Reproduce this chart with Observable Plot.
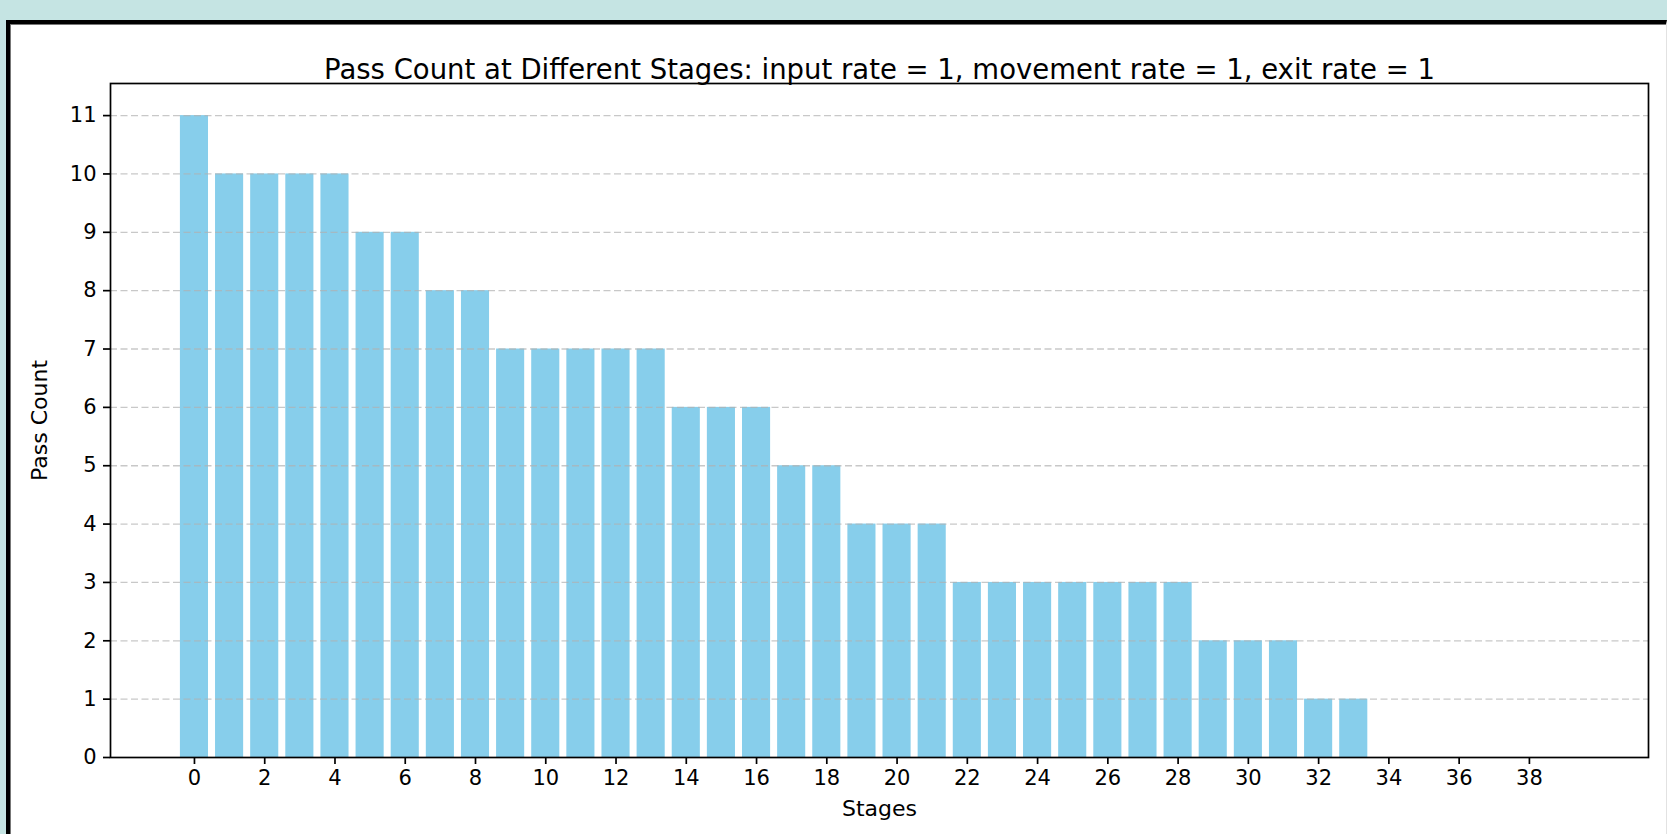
<!DOCTYPE html>
<html>
<head>
<meta charset="utf-8">
<script src="https://cdn.jsdelivr.net/npm/d3@7"></script>
<script src="https://cdn.jsdelivr.net/npm/@observablehq/plot@0.6"></script>
<style>
  html, body { margin: 0; padding: 0; width: 1667px; height: 834px; overflow: hidden; background: #c5e4e3; }
  #frame { position: absolute; left: 6px; top: 20px; width: 1656px; height: 830px;
           border-left: 4px solid #000; border-top: 4px solid #000; border-right: 1px solid #e2e2e2;
           background: #fff; box-shadow: inset 1px 1px 0 #777; }
  #chart { position: absolute; left: 0; top: 0; }
</style>
</head>
<body>
<div id="frame"></div>
<div id="chart"></div>
<script>
const titleText = "Pass Count at Different Stages: input rate = 1, movement rate = 1, exit rate = 1";
const xLabel = "Stages";
const yLabel = "Pass Count";
const stages = d3.range(0, 40);
const passCounts = [11,10,10,10,10,9,9,8,8,7,7,7,7,7,6,6,6,5,5,4,4,4,3,3,3,3,3,3,3,2,2,2,1,1,0,0,0,0,0,0];
const xTicks = d3.range(0, 39, 2);
const yTicks = d3.range(0, 12);

const data = stages.map((s, i) => ({stage: s, count: passCounts[i]}));
const font = "DejaVu Sans, sans-serif";

const chart = Plot.plot({
  width: 1667,
  height: 834,
  marginLeft: 110,
  marginRight: 19,
  marginTop: 83,
  marginBottom: 77,
  style: {background: "transparent", fontFamily: font, color: "#000", overflow: "visible"},
  x: {domain: [-2.39, 41.39]},
  y: {domain: [0, 11.55]},
  marks: [
    Plot.rectY(data, {x1: d => d.stage - 0.4, x2: d => d.stage + 0.4, y: "count", fill: "#87CEEB"}),
    Plot.ruleY(yTicks.slice(1), {stroke: "#b0b0b0", strokeOpacity: 0.7, strokeWidth: 1.3, strokeDasharray: "7,3.5"}),
    Plot.frame({stroke: "#000", strokeWidth: 1.7}),
    Plot.axisX({ticks: xTicks, tickSize: 7, tickPadding: 6, fontSize: 21, label: null, strokeWidth: 1.7}),
    Plot.axisY({ticks: yTicks, tickSize: 7, tickPadding: 7, fontSize: 21, label: null, tickFormat: d3.format("d"), strokeWidth: 1.7}),
    Plot.text([titleText], {frameAnchor: "top", textAnchor: "middle", dy: -24, fontSize: 27.5, fill: "#000"}),
    Plot.text([xLabel], {frameAnchor: "bottom", textAnchor: "middle", dy: 58, fontSize: 22, fill: "#000"}),
    Plot.text([yLabel], {frameAnchor: "left", textAnchor: "middle", dx: -71, rotate: -90, fontSize: 22, fill: "#000"})
  ]
});
document.getElementById("chart").appendChild(chart);
</script>
</body>
</html>
